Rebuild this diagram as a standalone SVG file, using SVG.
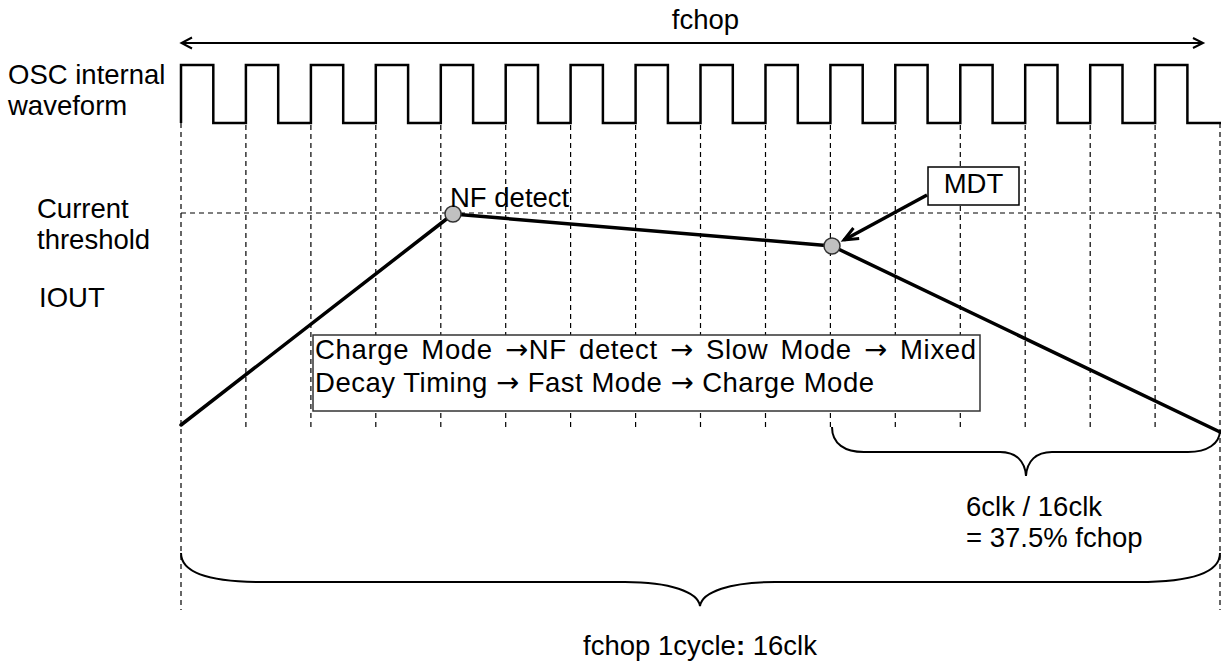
<svg xmlns="http://www.w3.org/2000/svg" width="1221" height="666" viewBox="0 0 1221 666">
<style>
text{font-family:"Liberation Sans",Arial,sans-serif;font-size:27.5px;fill:#000}
.arr{font-family:"DejaVu Sans",sans-serif}
.dash{stroke:#000;stroke-width:1.2;stroke-dasharray:5,4;fill:none}
.thick{stroke:#000;stroke-width:3.5;fill:none;stroke-linejoin:round;stroke-linecap:round}
.brace{stroke:#000;stroke-width:2;fill:none}
.dot{fill:#c0c0c0;stroke:#333;stroke-width:1.5}
</style>
<defs>
<marker id="open" markerWidth="14" markerHeight="12" refX="11" refY="6" orient="auto" markerUnits="userSpaceOnUse">
<path d="M1,1 L11,6 L1,11" fill="none" stroke="#000" stroke-width="2"/>
</marker>
<marker id="openB" markerWidth="20" markerHeight="16" refX="16" refY="8" orient="auto" markerUnits="userSpaceOnUse">
<path d="M2,2 L16,8 L2,14" fill="none" stroke="#000" stroke-width="3"/>
</marker>
</defs>

<g id="grid">
<path class="dash" d="M181,123 V610 M1220,123 V610 M245.9,125 V428 M310.9,125 V428 M375.8,125 V428 M440.8,125 V428 M505.7,125 V428 M570.6,125 V428 M635.6,125 V428 M700.5,125 V428 M765.5,125 V428 M830.4,125 V428 M895.3,125 V428 M960.3,125 V428 M1025.2,125 V428 M1090.2,125 V428 M1155.1,125 V428"/>
<path class="dash" d="M181,213 H1220"/>
</g>

<g id="fchop-arrow">
<line x1="183" y1="43" x2="1203" y2="43" stroke="#000" stroke-width="2" marker-end="url(#open)"/>
<path d="M192,37.5 L181.5,43 L192,48.5" fill="none" stroke="#000" stroke-width="2"/>
<text x="705.5" y="29" text-anchor="middle">fchop</text>
</g>

<g id="osc">
<text x="8" y="84">OSC internal</text>
<text x="8" y="115">waveform</text>
<path d="M181,123 V65 H213.3 V123 H245.9 V65 H278.2 V123 H310.9 V65 H343.2 V123 H375.8 V65 H408.1 V123 H440.8 V65 H473.1 V123 H505.7 V65 H538 V123 H570.6 V65 H602.9 V123 H635.6 V65 H667.9 V123 H700.5 V65 H732.8 V123 H765.5 V65 H797.8 V123 H830.4 V65 H862.7 V123 H895.3 V65 H927.6 V123 H960.3 V65 H992.6 V123 H1025.2 V65 H1057.5 V123 H1090.2 V65 H1122.5 V123 H1155.1 V65 H1187.4 V123 H1221" fill="none" stroke="#000" stroke-width="2.5" stroke-linejoin="miter"/>
</g>

<g id="labels">
<text x="37" y="218">Current</text>
<text x="37" y="249">threshold</text>
<text x="39" y="307">IOUT</text>
</g>

<g id="iout">
<polyline class="thick" points="181,425 453,214 832,246 1220,432"/>
</g>

<g id="nf-detect">
<circle class="dot" cx="453" cy="214" r="8"/>
<text x="450" y="207">NF detect</text>
</g>

<g id="mdt">
<circle class="dot" cx="832" cy="246" r="8"/>
<rect x="928" y="167" width="91" height="38" fill="#fff" stroke="#000" stroke-width="1.5"/>
<text x="973.5" y="193" text-anchor="middle">MDT</text>
</g>

<g id="connectors">
<line x1="927" y1="195" x2="844" y2="240" stroke="#000" stroke-width="3.5" marker-end="url(#openB)"/>
</g>

<g id="mode-box">
<rect x="313" y="335" width="667" height="76" fill="#fff" stroke="#333" stroke-width="1.5"/>
<text x="315" y="359" word-spacing="4" textLength="661" lengthAdjust="spacing">Charge Mode <tspan class="arr">→</tspan>NF detect <tspan class="arr">→</tspan> Slow Mode <tspan class="arr">→</tspan> Mixed</text>
<text x="315" y="392" textLength="559" lengthAdjust="spacing">Decay Timing <tspan class="arr">→</tspan> Fast Mode <tspan class="arr">→</tspan> Charge Mode</text>
</g>

<g id="brace-small">
<path class="brace" d="M832,427 C832,444 845,452 864,452 L1000,452 C1016,452 1025,461 1026,476 C1027,461 1036,452 1052,452 L1188,452 C1207,452 1220,444 1220,430"/>
<text x="966" y="516">6clk / 16clk</text>
<text x="966" y="547">= 37.5% fchop</text>
</g>

<g id="brace-big">
<path class="brace" d="M181,553 C181,574 212,582 262,582 L625,582 C670,582 698,592 700,606 C702,592 730,582 775,582 L1138,582 C1188,582 1220,574 1220,553"/>
<text x="583" y="655">fchop 1cycle<tspan font-weight="bold">:</tspan> 16clk</text>
</g>
</svg>
